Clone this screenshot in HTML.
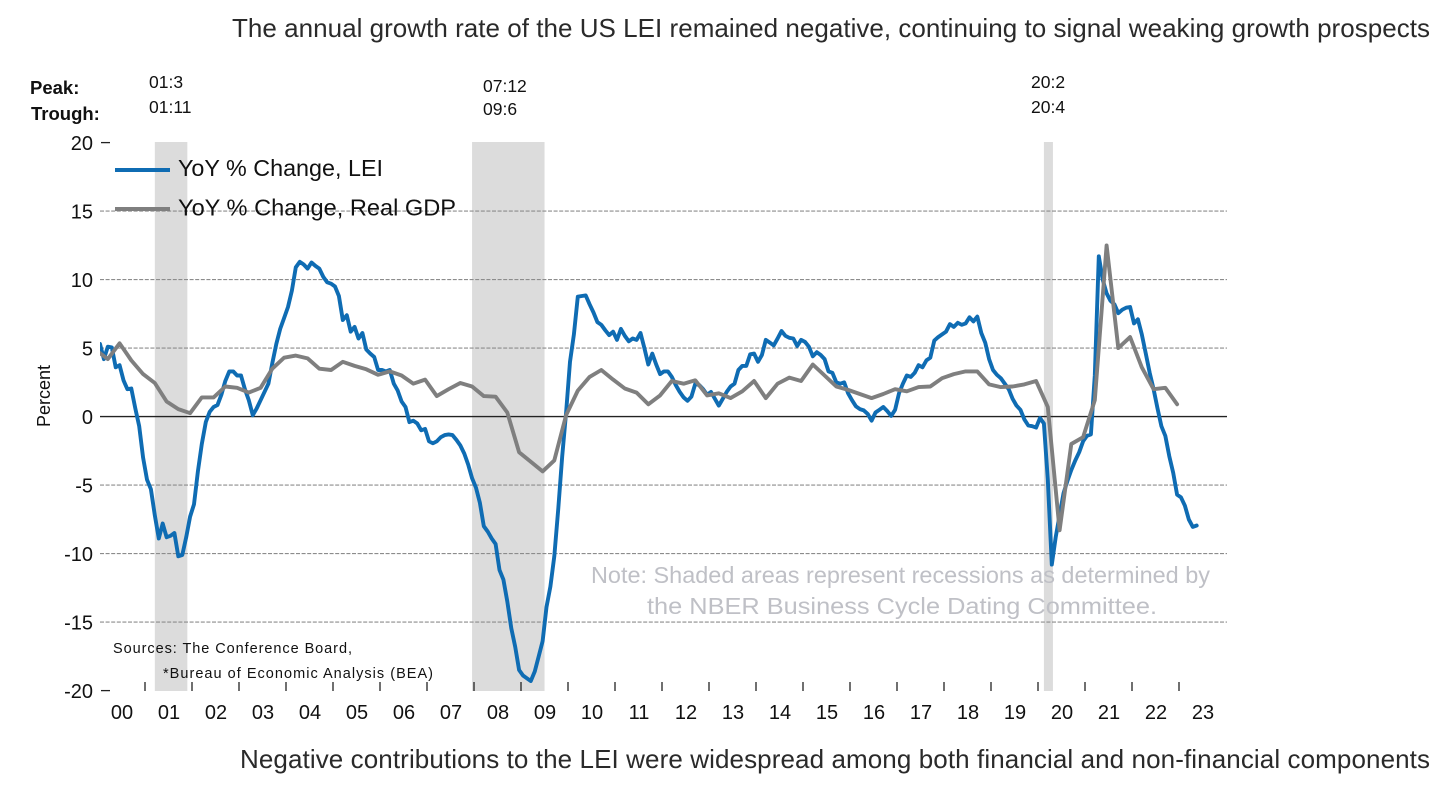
<!DOCTYPE html>
<html lang="en">
<head>
<meta charset="utf-8">
<title>US LEI annual growth rate</title>
<style>
html,body{margin:0;padding:0;background:#fff;width:1456px;height:789px;overflow:hidden}
svg{display:block;font-family:"Liberation Sans",sans-serif}
</style>
</head>
<body>
<svg id="chart" xmlns="http://www.w3.org/2000/svg" width="1456" height="789" viewBox="0 0 1456 789">
  <defs>
    <clipPath id="plot-clip"><rect x="100" y="100" width="1130" height="620"/></clipPath>
  </defs>
  <rect x="0" y="0" width="1456" height="789" fill="#fff"/>
  <text x="232" y="37" font-size="26" fill="#2a2a2a" textLength="1198" lengthAdjust="spacing">The annual growth rate of the US LEI remained negative, continuing to signal weaking growth prospects</text>
  <text x="30" y="94" font-size="18.5" font-weight="bold" fill="#111">Peak:</text>
  <text x="31" y="120" font-size="18.5" font-weight="bold" fill="#111">Trough:</text>
  <text x="149" y="88" font-size="17.5" fill="#111">01:3</text>
  <text x="149" y="113" font-size="17.5" fill="#111">01:11</text>
  <text x="483" y="92" font-size="17.5" fill="#111">07:12</text>
  <text x="483" y="115" font-size="17.5" fill="#111">09:6</text>
  <text x="1031" y="88" font-size="17.5" fill="#111">20:2</text>
  <text x="1031" y="113" font-size="17.5" fill="#111">20:4</text>
  <g id="shades"></g>
  <g id="grid"></g>
  <g id="axes"></g>
  <text transform="translate(50,396) rotate(-90)" text-anchor="middle" font-size="18" fill="#111">Percent</text>
  <text x="591" y="583" font-size="23" fill="#bfc0c6" textLength="619" lengthAdjust="spacingAndGlyphs">Note: Shaded areas represent recessions as determined by</text>
  <text x="647" y="614" font-size="23" fill="#bfc0c6" textLength="510" lengthAdjust="spacingAndGlyphs">the NBER Business Cycle Dating Committee.</text>
  <g id="series" clip-path="url(#plot-clip)"></g>
  <line x1="115" y1="170" x2="170" y2="170" stroke="#0f6cb3" stroke-width="4"/>
  <text x="178" y="176" font-size="23" fill="#111" textLength="205" lengthAdjust="spacingAndGlyphs">YoY % Change, LEI</text>
  <line x1="115" y1="209" x2="170" y2="209" stroke="#7f7f7f" stroke-width="4"/>
  <text x="178" y="215.5" font-size="23" fill="#111" textLength="278" lengthAdjust="spacingAndGlyphs">YoY % Change, Real GDP</text>
  <text x="113" y="653" font-size="14.5" fill="#111" textLength="239" lengthAdjust="spacing">Sources: The Conference Board,</text>
  <text x="163" y="678" font-size="14.5" fill="#111" textLength="270" lengthAdjust="spacing">*Bureau of Economic Analysis (BEA)</text>
  <text x="240" y="768" font-size="26" fill="#2a2a2a" textLength="1190" lengthAdjust="spacing">Negative contributions to the LEI were widespread among both financial and non-financial components</text>
</svg>
<script>
const yTickValues = [20, 15, 10, 5, 0, -5, -10, -15, -20];
const yearLabels = ["00","01","02","03","04","05","06","07","08","09","10","11","12","13","14","15","16","17","18","19","20","21","22","23"];
const recessionPeaks = [14, 95, 241];
const recessionTroughs = [22.3, 113.5, 243.3];
const leiValues = [
  5.3,4.2,5.1,5.05,3.6,3.75,2.65,2.0,2.05,0.6,-0.7,-3.0,
  -4.6,-5.3,-7.2,-8.9,-7.8,-8.8,-8.7,-8.5,-10.2,-10.1,-8.8,-7.3,
  -6.4,-4.0,-2.0,-0.4,0.35,0.7,0.85,1.6,2.6,3.3,3.3,3.0,
  3.0,2.0,1.2,0.1,0.6,1.2,1.8,2.4,3.9,5.3,6.4,7.2,
  8.0,9.2,10.9,11.3,11.1,10.8,11.25,11.0,10.8,10.2,9.8,9.7,
  9.5,8.8,7.05,7.4,6.2,6.55,5.7,6.1,4.9,4.6,4.35,3.4,
  3.4,3.3,3.4,2.4,1.9,1.1,0.7,-0.4,-0.3,-0.5,-1.0,-0.9,
  -1.8,-1.95,-1.8,-1.5,-1.35,-1.3,-1.35,-1.7,-2.1,-2.7,-3.5,-4.5,
  -5.2,-6.3,-8.0,-8.4,-8.9,-9.3,-11.2,-11.9,-13.5,-15.45,-16.8,-18.5,
  -18.9,-19.1,-19.3,-18.6,-17.5,-16.4,-13.9,-12.4,-10.2,-6.7,-2.9,0.3,
  4.0,6.0,8.75,8.8,8.85,8.2,7.6,6.9,6.7,6.3,5.95,6.2,
  5.6,6.4,5.9,5.5,5.7,5.6,6.1,5.0,3.8,4.6,3.8,3.1,
  3.3,3.3,2.9,2.3,1.8,1.4,1.15,1.45,2.4,2.3,2.0,1.6,
  1.8,1.3,0.8,1.3,1.8,2.2,2.4,3.4,3.7,3.7,4.55,4.6,
  4.0,4.5,5.6,5.4,5.2,5.7,6.25,5.9,5.75,5.7,5.15,5.6,
  5.45,5.1,4.4,4.7,4.5,4.2,3.3,3.2,2.5,2.4,2.5,1.7,
  1.2,0.75,0.55,0.45,0.2,-0.3,0.3,0.5,0.7,0.4,0.05,0.5,
  1.7,2.4,3.0,2.9,3.2,3.75,3.6,4.1,4.3,5.55,5.8,6.0,
  6.2,6.75,6.55,6.85,6.7,6.8,7.25,6.95,7.3,6.1,5.4,4.2,
  3.4,3.05,2.8,2.4,2.0,1.3,0.8,0.5,-0.2,-0.65,-0.7,-0.8,
  -0.1,-0.5,-4.6,-10.8,-8.8,-7.2,-5.6,-4.7,-3.9,-3.2,-2.6,-1.8,
  -1.4,-1.3,3.0,11.7,10.0,9.0,8.45,8.2,7.55,7.8,7.95,8.0,
  6.8,7.1,6.0,4.6,3.2,2.0,0.6,-0.7,-1.4,-2.9,-4.1,-5.7,
  -5.9,-6.5,-7.5,-8.05,-7.95
];
const gdpValues = [
  4.85,4.2,5.35,4.1,3.1,2.45,1.1,0.55,0.25,1.4,1.4,2.2,
  2.1,1.75,2.1,3.5,4.3,4.45,4.25,3.5,3.4,4.0,3.7,3.45,
  3.05,3.3,3.0,2.4,2.7,1.5,2.0,2.45,2.2,1.5,1.45,0.3,
  -2.6,-3.3,-4.0,-3.2,0.1,1.9,2.9,3.4,2.7,2.05,1.75,0.9,
  1.55,2.6,2.4,2.65,1.55,1.7,1.35,1.85,2.6,1.35,2.4,2.85,
  2.6,3.8,3.0,2.2,1.95,1.65,1.35,1.65,2.0,1.85,2.15,2.2,
  2.8,3.1,3.3,3.3,2.35,2.15,2.2,2.35,2.6,0.7,-8.3,-2.0,
  -1.5,1.2,12.5,5.0,5.8,3.6,2.0,2.1,0.9
];

const NS = "http://www.w3.org/2000/svg";
const plotLeft = 100, plotRight = 1227;
const monthWidth = 47 / 12;
function xScale(month) { return plotLeft + month * monthWidth; }
function yScale(value) { return 416.6 - value * 13.7; }
function yearTickX(yearIndex) { return xScale(yearIndex * 12) - 2; }
function gdpMonth(index) { return (index - 1) * 3 + 2; }
function make(tag, attrs) {
  const el = document.createElementNS(NS, tag);
  for (const k in attrs) el.setAttribute(k, attrs[k]);
  return el;
}
const shades = document.getElementById("shades");
const grid = document.getElementById("grid");
const axes = document.getElementById("axes");
const series = document.getElementById("series");

recessionPeaks.forEach(function (start, i) {
  const x0 = xScale(start), x1 = xScale(recessionTroughs[i]);
  const r = make("rect", { x: x0, y: 142, width: x1 - x0, height: 549, fill: "#dcdcdc" });
  
  
  shades.appendChild(r);
});

yTickValues.forEach(function (v) {
  const y = yScale(v);
  if (v !== 20 && v !== -20) {
    const zero = v === 0;
    const line = make("line", zero
      ? { x1: plotLeft, y1: y, x2: plotRight, y2: y, stroke: "#222", "stroke-width": 1.4 }
      : { x1: plotLeft, y1: y, x2: plotRight, y2: y, stroke: "#8c8c8c", "stroke-width": 1.1, "stroke-dasharray": "4 1.6" });
    
    
    grid.appendChild(line);
  } else {
    const tick = make("line", { x1: 101, y1: y, x2: 110, y2: y, stroke: "#222", "stroke-width": 1.3 });
    
    
    axes.appendChild(tick);
  }
  const label = make("text", { x: 93, y: y + 7.2, "text-anchor": "end", "font-size": 20, fill: "#111" });
  
  
  label.textContent = String(v);
  axes.appendChild(label);
});

yearLabels.forEach(function (name, i) {
  if (i > 0) {
    const tx = yearTickX(i);
    const t = make("line", { x1: tx, y1: 682, x2: tx, y2: 691, stroke: "#222", "stroke-width": 1.3 });
    
    
    axes.appendChild(t);
  }
  const label = make("text", { x: xScale(i * 12) + 22, y: 719, "text-anchor": "middle", "font-size": 20, fill: "#111" });
  
  
  label.textContent = name;
  axes.appendChild(label);
});

const leiPoints = leiValues.map(function (v, i) { return xScale(i).toFixed(1) + "," + yScale(v).toFixed(1); }).join(" ");
const leiLine = make("polyline", { points: leiPoints, fill: "none", stroke: "#0f6cb3", "stroke-width": 3.9, "stroke-linejoin": "round", "stroke-linecap": "round" });


series.appendChild(leiLine);

const gdpPoints = gdpValues.map(function (v, i) { return xScale(gdpMonth(i)).toFixed(1) + "," + yScale(v).toFixed(1); }).join(" ");
const gdpLine = make("polyline", { points: gdpPoints, fill: "none", stroke: "#7f7f7f", "stroke-width": 3.9, "stroke-linejoin": "round", "stroke-linecap": "round" });


series.appendChild(gdpLine);
</script>
</body>
</html>
